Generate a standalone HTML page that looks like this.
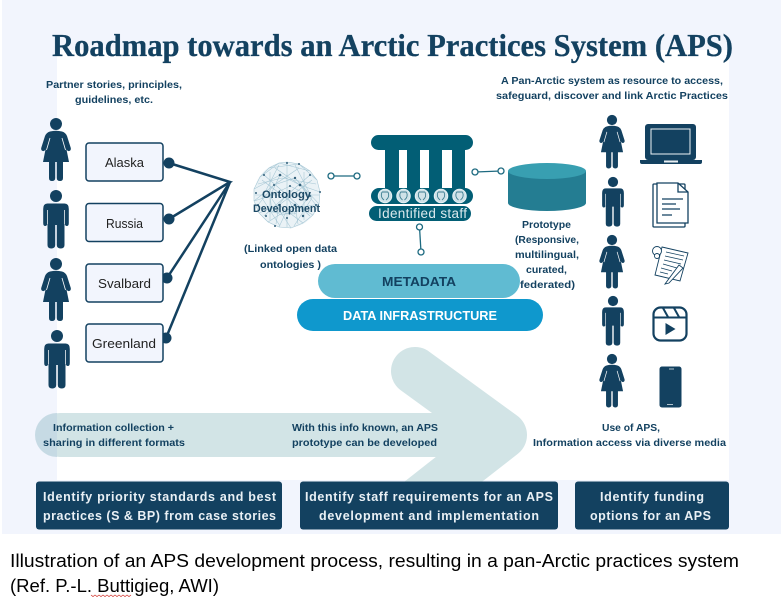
<!DOCTYPE html>
<html lang="en">
<head>
<meta charset="utf-8">
<title>Roadmap towards an Arctic Practices System (APS)</title>
<style>
html,body{margin:0;padding:0;background:#fff;width:781px;height:606px;overflow:hidden}
svg{display:block}
text{font-family:"Liberation Sans",sans-serif}
.b{font-weight:bold;fill:#134160;font-size:10.5px}
.w{font-weight:bold;fill:#e9f0f5;font-size:12.5px}
.r{fill:#222;font-size:13px}
.c{fill:#000;font-size:18px}
</style>
</head>
<body>
<svg width="781" height="606" viewBox="0 0 781 606" xmlns="http://www.w3.org/2000/svg">
<defs>
<g id="woman">
<circle cx="0" cy="0" r="6" fill="#134160"/>
<path d="M-6 7.5 Q0 6 6 7.5 Q9.500 8.500 11 12 L14.800 24 Q15.200 26.500 13.200 27 Q11.500 27.500 10.500 25.500 L13 38 L7 38 L7 54 Q7 57 4 57 Q.8 57 .8 54 L.8 38 L-.8 38 L-.8 54 Q-.8 57 -4 57 Q-7 57 -7 54 L-7 38 L-13 38 L-10.500 25.500 Q-11.500 27.500 -13.200 27 Q-15.200 26.500 -14.800 24 L-11 12 Q-9.500 8.500 -6 7.500Z" fill="#134160"/>
<path d="M-6 14 L-9.500 26 M6 14 L9.500 26" stroke="#fff" stroke-width=".8" fill="none"/>
</g>
<g id="man">
<circle cx="0" cy="0" r="6" fill="#134160"/>
<path d="M-8.500 7.500 H8.500 Q12.800 7.500 12.800 13 V27 Q12.800 30 10.800 30 Q8.800 30 8.800 27 V14 H8.500 V49 Q8.500 52.500 4.800 52.500 Q.8 52.500 .8 49 V29 H-.8 V49 Q-.8 52.500 -4.800 52.500 Q-8.500 52.500 -8.500 49 V14 H-8.800 V27 Q-8.800 30 -10.800 30 Q-12.800 30 -12.800 27 V13 Q-12.800 7.500 -8.500 7.500Z" fill="#134160"/>
<path d="M-8.600 14 V28 M8.600 14 V28" stroke="#fff" stroke-width=".7" fill="none"/>
</g>
</defs>

<!-- backgrounds -->
<rect x="2" y="0" width="779" height="534" fill="#f2f5fd"/>
<rect x="57" y="50" width="672" height="430" fill="#fff"/>

<!-- title -->
<text x="52" y="56" textLength="681" lengthAdjust="spacingAndGlyphs" style="font-family:'Liberation Serif',serif;font-weight:bold;font-size:32px" fill="#134160" stroke="#134160" stroke-width=".3">Roadmap towards an Arctic Practices System (APS)</text>
<text class="b" x="46" y="88" textLength="136" lengthAdjust="spacingAndGlyphs">Partner stories, principles,</text>
<text class="b" x="75" y="103" textLength="78" lengthAdjust="spacingAndGlyphs">guidelines, etc.</text>
<text class="b" x="501" y="84" textLength="222" lengthAdjust="spacingAndGlyphs">A Pan-Arctic system as resource to access,</text>
<text class="b" x="496" y="99" textLength="232" lengthAdjust="spacingAndGlyphs">safeguard, discover and link Arctic Practices</text>

<!-- flow arrow -->
<path d="M60 435 H500" stroke="#d2e4e6" stroke-width="44" stroke-linecap="round" fill="none"/>
<path d="M415 371 L503 435 L444 481 L420 500" stroke="#d2e4e6" stroke-width="48" stroke-linecap="round" stroke-linejoin="round" fill="none"/>
<path d="M57 413 A22 22 0 0 0 57 457Z" fill="#c6dae4"/>

<!-- left people -->
<use href="#woman" x="56" y="124"/>
<use href="#man" x="56" y="196"/>
<use href="#woman" x="56" y="264"/>
<use href="#man" x="57" y="336"/>

<!-- connectors left -->
<g stroke="#134160" stroke-width="2.500" fill="none">
<path d="M169 163 L230 182 L169 219"/>
<path d="M167 278 L230 182 L166 338"/>
</g>
<g fill="#134160">
<circle cx="169" cy="163" r="5.500"/><circle cx="169" cy="219" r="5.500"/>
<circle cx="167" cy="278" r="5.500"/><circle cx="166" cy="338" r="5.500"/>
</g>
<g fill="#f2f5fd" stroke="#134160" stroke-width="1.500">
<rect x="86" y="143" width="77" height="38" rx="3"/>
<rect x="86" y="203.500" width="77" height="38" rx="3"/>
<rect x="86" y="264" width="77" height="38" rx="3"/>
<rect x="86" y="324" width="77" height="38" rx="3"/>
</g>
<text class="r" x="105" y="167" textLength="39" lengthAdjust="spacingAndGlyphs">Alaska</text>
<text class="r" x="106" y="228" textLength="37" lengthAdjust="spacingAndGlyphs">Russia</text>
<text class="r" x="98" y="288" textLength="53" lengthAdjust="spacingAndGlyphs">Svalbard</text>
<text class="r" x="92" y="348" textLength="64" lengthAdjust="spacingAndGlyphs">Greenland</text>

<!-- ontology network -->
<circle cx="287" cy="195" r="33" fill="#eaf2f6"/>
<g stroke="#a5c6d4" stroke-width=".55" fill="none">
<path d="M287 162 L299 164 L310 171 L317 180 L320 192 L319 204 L313 215 L303 223 L291 228 L279 227 L268 222 L259 213 L254 201 L254 189 L260 177 L269 168 L279 163Z"/>
<path d="M264 175 L287 195 L310 175 M264 216 L287 195 L310 216 M255 195 H319 M287 163 V227"/>
<path d="M275 168 L300 185 L316 205 M299 168 L274 185 L258 205 M262 180 L295 205 L298 224 M312 180 L279 205 L276 224"/>
<path d="M258 184 L282 178 L316 184 M258 206 L282 215 L316 206 M270 172 L270 220 M304 172 L304 220"/>
<path d="M279 165 L262 198 L280 226 M295 165 L312 198 L294 226"/>
<path d="M269 168 L299 164 L317 180 M260 177 L279 163 L310 171 M254 189 L280 175 L300 185 L320 192 M254 201 L274 185 L295 178 L319 204"/>
<path d="M259 213 L279 205 L303 223 M268 222 L295 205 L313 215 M279 227 L287 210 L319 204 M291 228 L270 196 L254 201"/>
<path d="M270 196 L290 186 L310 196 L295 214 L272 212Z M280 175 L270 196 M295 178 L310 196 M287 195 L295 214 M287 195 L272 212"/>
</g>
<g fill="#33607a">
<circle cx="287" cy="163" r="1"/><circle cx="280" cy="175" r="1.300"/><circle cx="300" cy="185" r="1.300"/>
<circle cx="274" cy="185" r="1"/><circle cx="310" cy="175" r="1"/><circle cx="264" cy="175" r="1"/>
<circle cx="295" cy="205" r="1.300"/><circle cx="279" cy="205" r="1"/><circle cx="303" cy="216" r="1.200"/>
<circle cx="275" cy="226" r="1"/><circle cx="258" cy="205" r="1"/><circle cx="316" cy="205" r="1"/>
<circle cx="266" cy="216" r="1"/><circle cx="287" cy="218" r="1"/><circle cx="256" cy="193" r="1"/>
<circle cx="295" cy="178" r="1.200"/><circle cx="290" cy="186" r="1"/><circle cx="310" cy="196" r="1"/><circle cx="299" cy="164" r="1"/><circle cx="320" cy="192" r="1"/>
</g>
<text x="262" y="198" textLength="49" lengthAdjust="spacingAndGlyphs" style="font-weight:bold;font-size:11px" fill="#1d4a66">Ontology</text>
<text x="253" y="212" textLength="67" lengthAdjust="spacingAndGlyphs" style="font-weight:bold;font-size:11px" fill="#1d4a66">Development</text>
<text class="b" x="244" y="252" textLength="93" lengthAdjust="spacingAndGlyphs">(Linked open data</text>
<text class="b" x="260" y="268" textLength="61" lengthAdjust="spacingAndGlyphs">ontologies )</text>

<!-- small connectors -->
<g stroke="#1d6a80" stroke-width="1.300" fill="#fff">
<path d="M331 176 H357" fill="none"/><circle cx="331" cy="176" r="3"/><circle cx="357" cy="176" r="3"/>
<path d="M475 172 L501 171" fill="none"/><circle cx="475" cy="172" r="3"/><circle cx="501" cy="171" r="3"/>
<path d="M419.500 227 L421 252" fill="none"/><circle cx="419.500" cy="227" r="3"/><circle cx="421" cy="252" r="3"/>
</g>

<!-- building -->
<rect x="371" y="135" width="102" height="15" rx="7.500" fill="#025e75"/>
<rect x="385" y="148" width="80" height="42" fill="#025e75"/>
<rect x="399" y="150" width="8" height="38" fill="#fff"/>
<rect x="420" y="150" width="9" height="38" fill="#fff"/>
<rect x="442" y="150" width="10" height="38" fill="#fff"/>
<rect x="371" y="188" width="102" height="16" rx="8" fill="#025e75"/>
<g fill="#cfe2e8" stroke="#e9f3f6" stroke-width=".9">
<circle cx="385" cy="196" r="6.800"/><circle cx="403.500" cy="196" r="6.800"/><circle cx="422" cy="196" r="6.800"/><circle cx="441" cy="196" r="6.800"/><circle cx="459.500" cy="196" r="6.800"/>
</g>
<g fill="none" stroke="#3f7f92" stroke-width=".9">
<path d="M382 192 Q380 197 384 200 M388 192 Q390 197 386 200 M382 192 L388 192"/>
<path d="M400.500 192 Q398.500 197 402.500 200 M406.500 192 Q408.500 197 404.500 200 M400.500 192 L406.500 192"/>
<path d="M419 192 Q417 197 421 200 M425 192 Q427 197 423 200 M419 192 L425 192"/>
<path d="M438 192 Q436 197 440 200 M444 192 Q446 197 442 200 M438 192 L444 192"/>
<path d="M456.500 192 Q454.500 197 458.500 200 M462.500 192 Q464.500 197 460.500 200 M456.500 192 L462.500 192"/>
</g>
<rect x="369" y="206" width="102" height="15" rx="7.500" fill="#025e75"/>
<text x="378" y="218" textLength="89" lengthAdjust="spacing" style="font-size:13.500px" fill="#dbe9ed">Identified staff</text>

<!-- cylinder -->
<path d="M508 171 V203 A39 8 0 0 0 586 203 V171Z" fill="#247d92"/>
<ellipse cx="547" cy="171" rx="39" ry="8" fill="#389fb1"/>
<text class="b" x="522" y="228" textLength="49" lengthAdjust="spacingAndGlyphs">Prototype</text>
<text class="b" x="515" y="243" textLength="64" lengthAdjust="spacingAndGlyphs">(Responsive,</text>
<text class="b" x="515" y="258" textLength="64" lengthAdjust="spacingAndGlyphs">multilingual,</text>
<text class="b" x="526" y="273" textLength="41" lengthAdjust="spacingAndGlyphs">curated,</text>

<!-- pills -->
<rect x="318" y="264" width="202" height="34" rx="17" fill="#60bbd2"/>
<text class="b" x="520" y="288" textLength="55" lengthAdjust="spacingAndGlyphs">federated)</text>
<text x="382" y="286" textLength="74" lengthAdjust="spacingAndGlyphs" style="font-weight:bold;font-size:13px" fill="#134160">METADATA</text>
<rect x="297" y="299" width="246" height="32" rx="16" fill="#0f98cd"/>
<text x="343" y="320" textLength="154" lengthAdjust="spacingAndGlyphs" style="font-weight:bold;font-size:13px" fill="#fff">DATA INFRASTRUCTURE</text>

<!-- right people -->
<use href="#woman" x="612" y="120" transform="translate(612 120) scale(.85) translate(-612 -120)"/>
<use href="#man" x="613" y="182" transform="translate(613 182) scale(.85) translate(-613 -182)"/>
<use href="#woman" x="612" y="240" transform="translate(612 240) scale(.85) translate(-612 -240)"/>
<use href="#man" x="613" y="301" transform="translate(613 301) scale(.85) translate(-613 -301)"/>
<use href="#woman" x="612" y="359" transform="translate(612 359) scale(.85) translate(-612 -359)"/>

<!-- laptop -->
<rect x="645" y="124" width="51" height="36" rx="3" fill="#134160"/>
<rect x="651" y="129" width="39" height="25" fill="#134160" stroke="#eef3f6" stroke-width="1"/>
<path d="M640 160 H702 V162 Q702 164 700 164 H642 Q640 164 640 162Z" fill="#134160"/>
<rect x="664" y="160.500" width="14" height="2" fill="#e8eef2"/>

<!-- document -->
<g fill="#fff" stroke="#134160" stroke-width="1.300">
<rect x="653" y="184" width="32" height="43" rx="1"/>
<path d="M657 183 H678 L688 192 V223 H657Z"/>
<path d="M678 183 V192 H688" fill="none"/>
</g>
<path d="M662 199 H683 M662 204 H676 M662 209 H680 M662 215 H672" stroke="#134160" stroke-width="1.300" fill="none"/>

<!-- notes -->
<g fill="#fff" stroke="#134160" stroke-width=".9">
<path d="M662 247 L688 253 L680 281 L655 275Z"/>
<circle cx="657" cy="251" r="4.500"/>
<circle cx="657" cy="256" r="2.500"/>
<path d="M679 265 L683 268 L669 283 L665 284Z"/>
</g>
<path d="M666 252 L684 256 M665 256 L683 260 M664 260 L681 264 M663 264 L677 268 M661 268 L672 271 M660 272 L668 274" stroke="#134160" stroke-width=".7" fill="none"/>

<!-- video -->
<rect x="653.500" y="307.500" width="33" height="33" rx="7" fill="#fff" stroke="#134160" stroke-width="2.200"/>
<path d="M653.500 317.500 H686.500 M663 308 L668 317 M674 308 L679 317" stroke="#134160" stroke-width="2" fill="none"/>
<path d="M665.500 323 L675.500 329 L665.500 335Z" fill="#134160"/>

<!-- phone -->
<rect x="659.500" y="366.500" width="22" height="41" rx="2.500" fill="#134160"/>
<path d="M669 369 H674 M667 404.500 H673" stroke="#e6edf1" stroke-width=".8"/>

<!-- flow text -->
<text class="b" x="53" y="431" textLength="121" lengthAdjust="spacingAndGlyphs">Information collection +</text>
<text class="b" x="43" y="446" textLength="142" lengthAdjust="spacingAndGlyphs">sharing in different formats</text>
<text class="b" x="292" y="431" textLength="146" lengthAdjust="spacingAndGlyphs">With this info known, an APS</text>
<text class="b" x="292" y="446" textLength="145" lengthAdjust="spacingAndGlyphs">prototype can be developed</text>
<text class="b" x="602" y="431" textLength="58" lengthAdjust="spacingAndGlyphs">Use of APS,</text>
<text class="b" x="533" y="446" textLength="193" lengthAdjust="spacingAndGlyphs">Information access via diverse media</text>

<!-- bottom boxes -->
<g fill="#134160">
<rect x="36" y="481.500" width="246" height="48" rx="3"/>
<rect x="300" y="481.500" width="258" height="48" rx="3"/>
<rect x="575" y="481.500" width="154" height="48" rx="3"/>
</g>
<text class="w" x="43" y="501" textLength="233" lengthAdjust="spacing">Identify priority standards and best</text>
<text class="w" x="43" y="520" textLength="233" lengthAdjust="spacing">practices (S &amp; BP) from case stories</text>
<text class="w" x="305" y="501" textLength="248" lengthAdjust="spacing">Identify staff requirements for an APS</text>
<text class="w" x="319" y="520" textLength="220" lengthAdjust="spacing">development and implementation</text>
<text class="w" x="600" y="501" textLength="104" lengthAdjust="spacing">Identify funding</text>
<text class="w" x="590" y="520" textLength="121" lengthAdjust="spacing">options for an APS</text>

<!-- caption -->
<text class="c" x="10" y="567" textLength="729" lengthAdjust="spacingAndGlyphs">Illustration of an APS development process, resulting in a pan-Arctic practices system</text>
<text class="c" x="10" y="592" textLength="209" lengthAdjust="spacingAndGlyphs">(Ref. P.-L. Buttigieg, AWI)</text>
<path d="M91 595 l2 1.500 l2 -1.500 l2 1.500 l2 -1.500 l2 1.500 l2 -1.500 l2 1.500 l2 -1.500 l2 1.500 l2 -1.500 l2 1.500 l2 -1.500 l2 1.500 l2 -1.500 l2 1.500 l2 -1.500 l2 1.500 l2 -1.500 l2 1.500 l2 -1.500" stroke="#d0302a" stroke-width=".7" fill="none"/>
</svg>
</body>
</html>
